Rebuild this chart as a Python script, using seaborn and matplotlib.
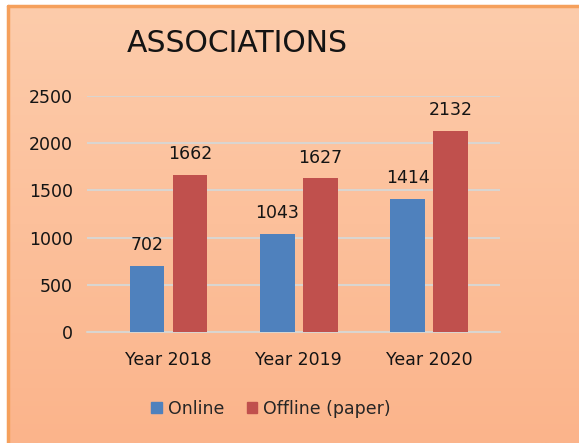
import numpy as np
import pandas as pd
import seaborn as sns
import matplotlib.pyplot as plt
from matplotlib.colors import LinearSegmentedColormap

# --- data ---
years = ["Year 2018", "Year 2019", "Year 2020"]
online = [702, 1043, 1414]
offline = [1662, 1627, 2132]
series_names = ["Online", "Offline (paper)"]

df = pd.DataFrame({
    "year": years * 2,
    "count": online + offline,
    "mode": [series_names[0]] * 3 + [series_names[1]] * 3,
})

sns.set_theme(style="white")
plt.rcParams['font.family'] = ['DejaVu Sans']

fig = plt.figure(figsize=(5.79, 4.43), dpi=100)
fig.patch.set_facecolor("white")

# peach gradient panel with an orange edge on top/left
bg = fig.add_axes([7 / 579, 0, 1 - 7 / 579, 1 - 5 / 443], zorder=-10)
grad = np.linspace(0, 1, 256).reshape(-1, 1)
cmap = LinearSegmentedColormap.from_list("peach", ["#FDCCAB", "#FBB48B"])
bg.imshow(grad, aspect="auto", cmap=cmap, extent=[0, 1, 0, 1])
bg.set_xlim(0, 1)
bg.set_ylim(0, 1)
bg.axis("off")
bg.plot([0.002, 0.002], [0, 0.997], color="#F5A05C", lw=2.5, transform=bg.transAxes, clip_on=False)
bg.plot([0.002, 1], [0.997, 0.997], color="#F5A05C", lw=2.5, transform=bg.transAxes, clip_on=False)

ax = fig.add_axes([87 / 579, 1 - 332 / 443, 413 / 579, 236 / 443])
ax.set_facecolor("none")

palette = {series_names[0]: "#4F81BD", series_names[1]: "#C0504D"}
sns.barplot(data=df, x="year", y="count", hue="mode", palette=palette,
            width=0.66, gap=0.2, saturation=1, ax=ax, legend=False,
            edgecolor="none")

for cont in ax.containers:
    ax.bar_label(cont, padding=8.5, fontsize=12.5, color="#141414")

ax.set_ylim(0, 2500)
ax.set_yticks(range(0, 2501, 500))
ax.set_xlim(-0.626, 2.544)
ax.yaxis.grid(True, color="#D9D5D0", linewidth=1.5)
ax.axhline(0, color="#D9D5D0", linewidth=1.5, clip_on=False, zorder=0.5)
ax.set_axisbelow(True)
for s in ax.spines.values():
    s.set_visible(False)
ax.tick_params(axis="y", length=0, pad=10, labelsize=12.5, labelcolor="#141414")
ax.tick_params(axis="x", length=0, pad=14, labelsize=12.5, labelcolor="#141414")
ax.set_xlabel("")
ax.set_ylabel("")

fig.text(127 / 579, 1 - 44 / 443, "ASSOCIATIONS", fontsize=21.5, ha="left",
         va="center", color="#141414")

handles = [plt.Rectangle((0, 0), 1, 1, color=palette[n]) for n in series_names]
fig.legend(handles, series_names, loc="center", bbox_to_anchor=(271 / 579, 1 - 409 / 443),
           ncol=2, frameon=False, fontsize=12.5, handlelength=0.6, handleheight=0.6,
           handletextpad=0.35, columnspacing=1.3)

fig.savefig("out.png", dpi=100)
